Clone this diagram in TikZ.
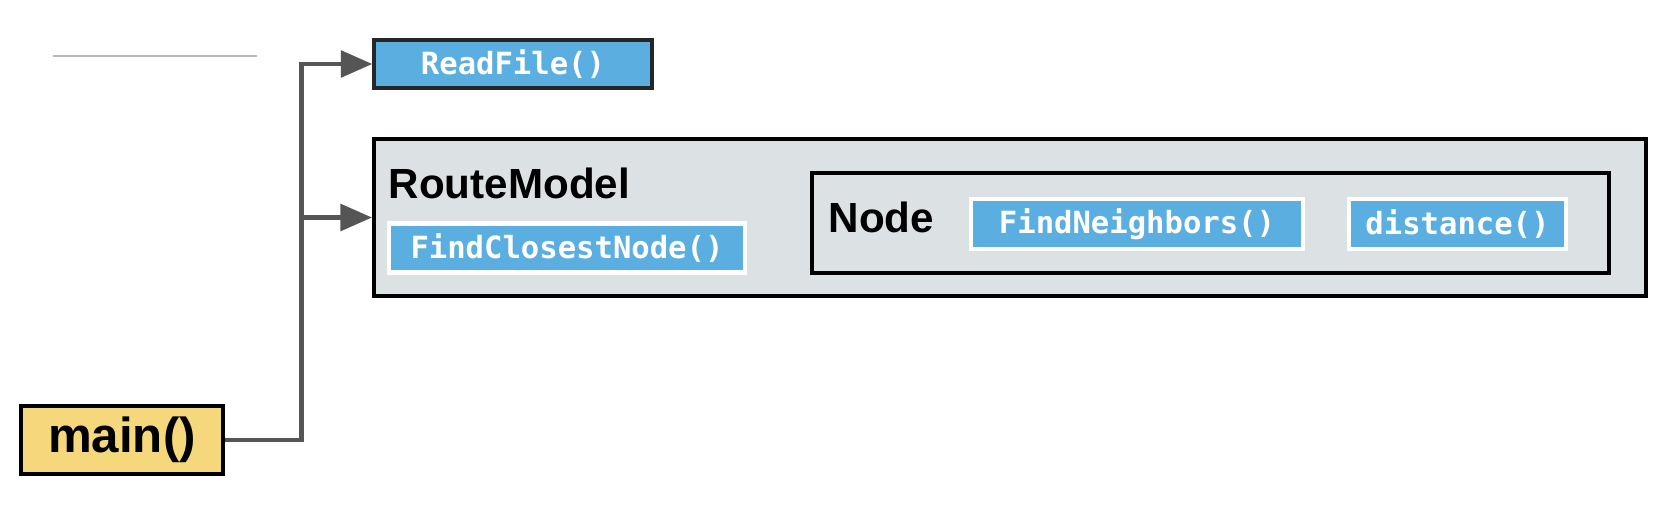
\documentclass[tikz,border=0pt]{standalone}
\usepackage{fontspec}
\setmainfont{Liberation Sans}
\newfontfamily\codefont{DejaVu Sans Mono}
\usepackage{xcolor}
\usepackage{tikz}
\usetikzlibrary{arrows.meta}

\definecolor{funcblue}{HTML}{5BAEE0}
\definecolor{classgray}{HTML}{DCE1E4}
\definecolor{mainyellow}{HTML}{F6D87C}
\definecolor{wiregray}{HTML}{555555}

\tikzset{
  func/.style = {draw = white, line width = 1.2pt, fill = funcblue, inner sep = 0pt,
    text = white, font = \codefont\bfseries\fontsize{8.7}{10}\selectfont},
  classbox/.style = {draw = black, line width = 1.1pt, fill = classgray, inner sep = 0pt},
  classname/.style = {anchor = west, inner sep = 0pt, font = \bfseries\fontsize{12}{14}\selectfont},
  wire/.style = {draw = wiregray, line width = 1.35pt},
}

\begin{document}
\begin{tikzpicture}
  \path[use as bounding box, fill = white] (0, 0) rectangle (16.68, 5.16);

  \draw[gray!55, line width = .6pt] (0.53, 4.60) -- (2.57, 4.60);

  \node[func, draw = black!85, line width = .9pt, minimum width = 2.78cm,
  minimum height = .48cm] (readfile) at (5.13, 4.52) {ReadFile()};

  \node[classbox, minimum width = 12.72cm, minimum height = 1.57cm] (routemodel)
  at (10.10, 2.985) {};
  \node[classname] (routetitle) at (3.88, 3.33) {RouteModel};
  \node[func, minimum width = 3.56cm, minimum height = .49cm] (closest)
  at (5.67, 2.68) {FindClosestNode()};

  \node[classbox, minimum width = 7.97cm, minimum height = 1.0cm] (nodebox)
  at (12.105, 2.93) {};
  \node[classname] (nodetitle) at (8.28, 2.99) {Node};
  \node[func, minimum width = 3.32cm, minimum height = .5cm] (neighbors)
  at (11.37, 2.92) {FindNeighbors()};
  \node[func, minimum width = 2.17cm, minimum height = .5cm] (distance)
  at (14.575, 2.92) {distance()};

  \node[draw = black, line width = 1.3pt, fill = mainyellow, inner sep = 0pt,
  minimum width = 2.02cm, minimum height = .68cm,
  font = \bfseries\fontsize{14}{16}\selectfont] (main) at (1.22, 0.76) {main()};

  \path (main.east) ++(0.76, 0) coordinate (split);
  \draw[wire, -{Triangle[length = 9pt, width = 7.5pt]}] (main.east) -- (split)
  |- (readfile.west);
  \draw[wire, -{Triangle[length = 9pt, width = 7.5pt]}] (split) |- (routemodel.west);
\end{tikzpicture}
\end{document}
